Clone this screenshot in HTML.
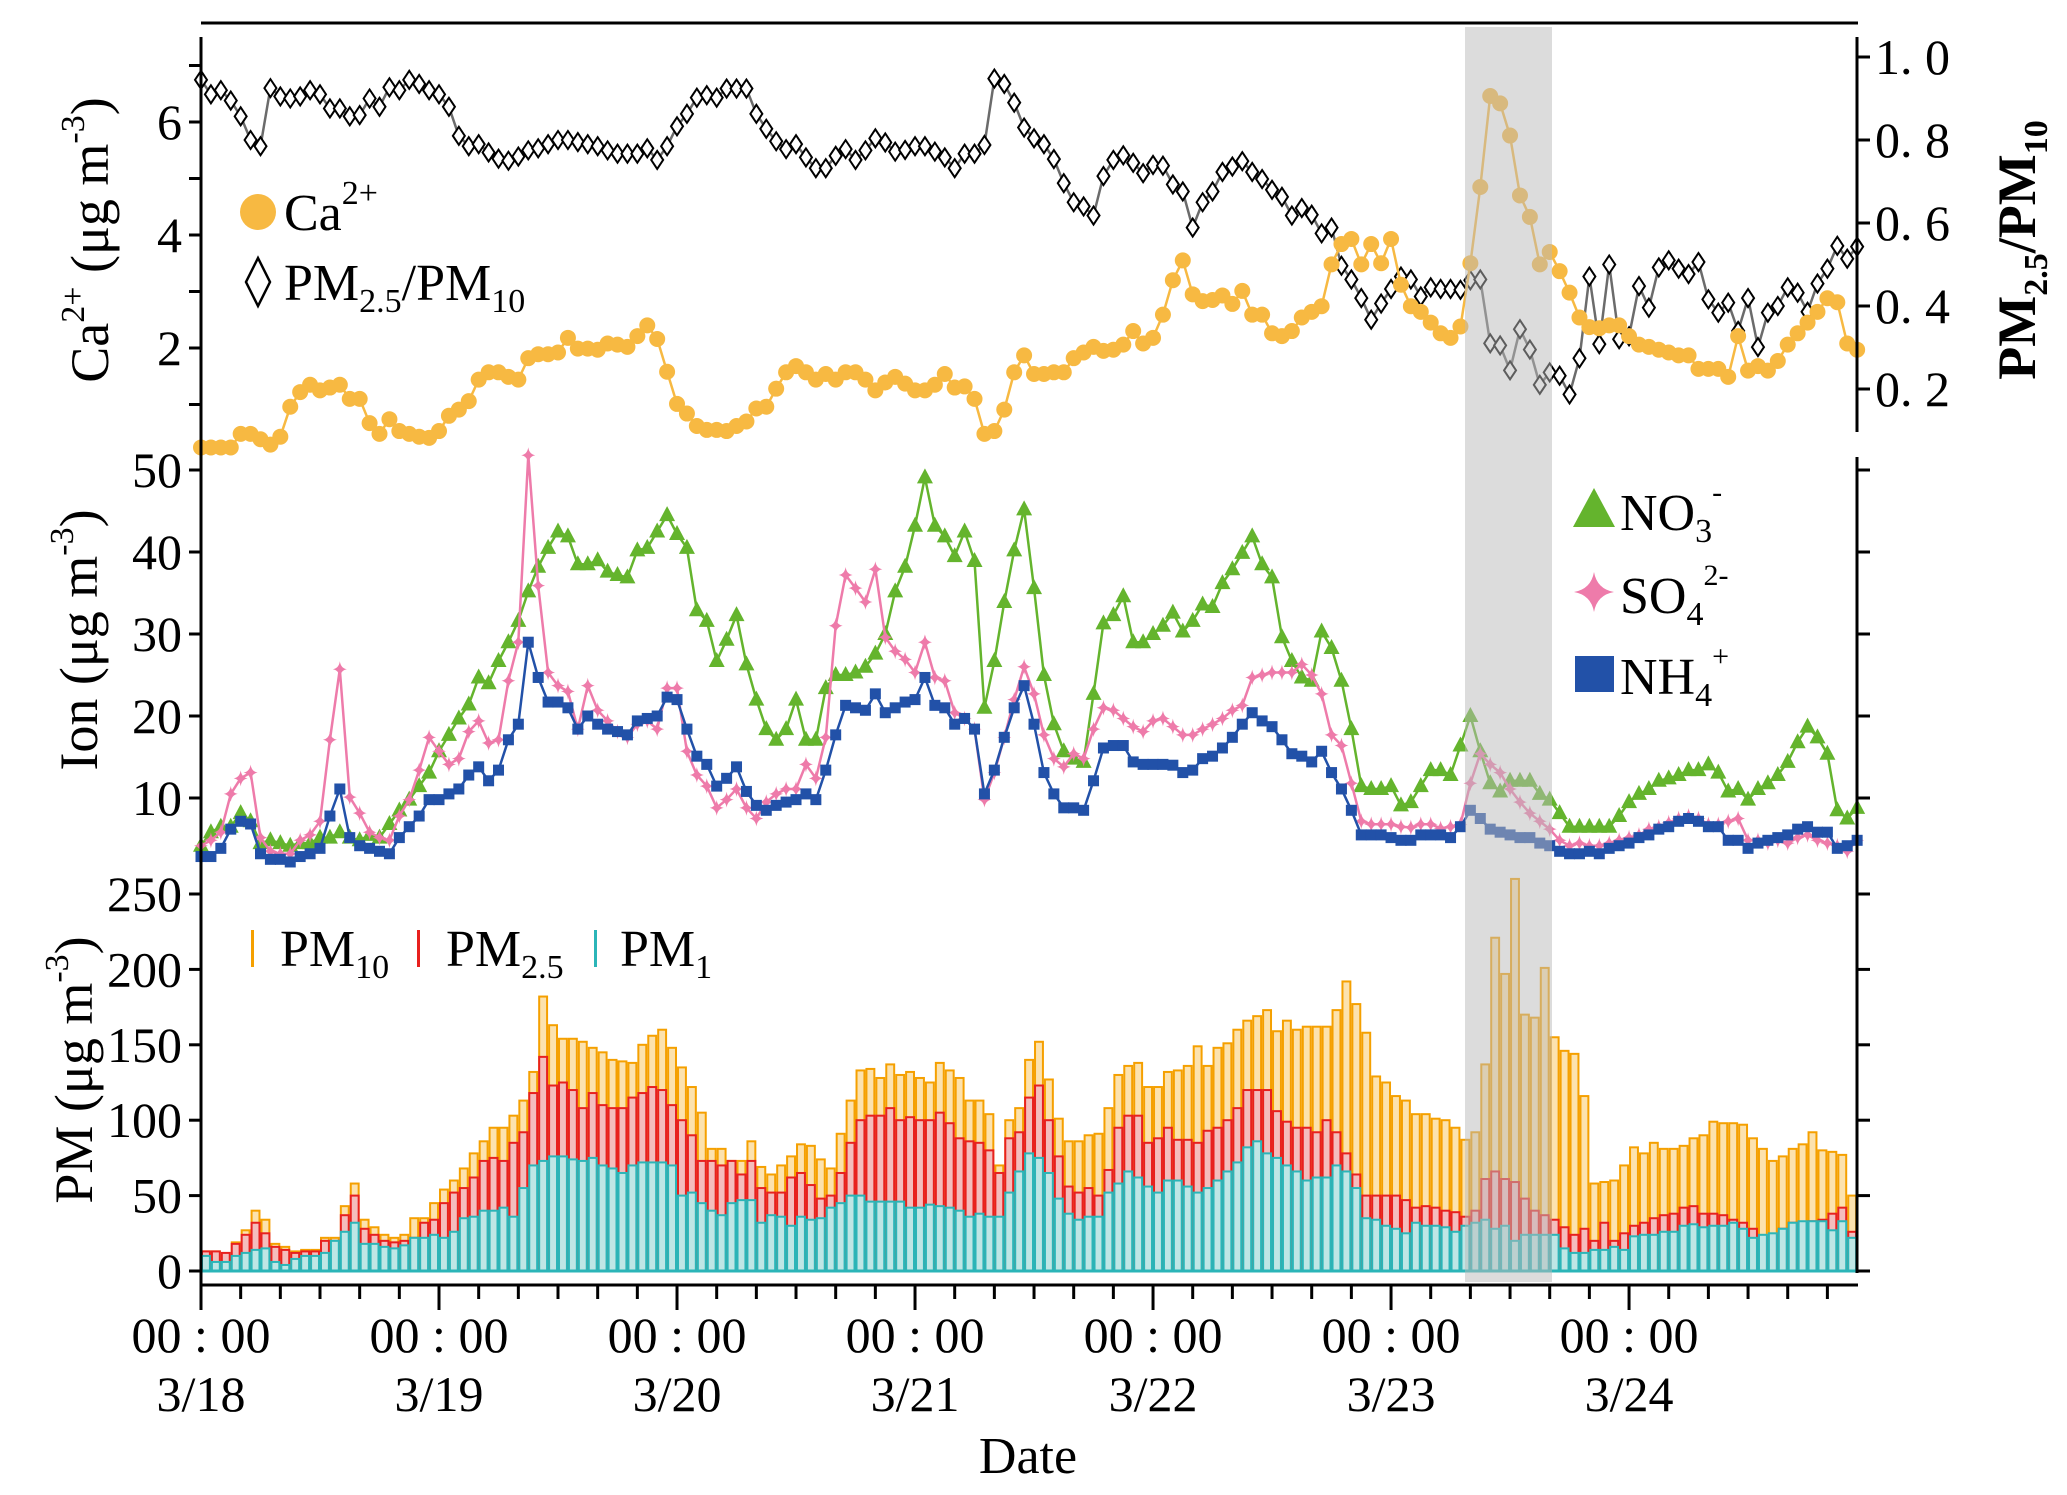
<!DOCTYPE html>
<html><head><meta charset="utf-8"><style>
html,body{margin:0;padding:0;background:#fff;}
svg{display:block;font-family:"Liberation Serif",serif;}
</style></head><body>
<svg id="chart" xmlns="http://www.w3.org/2000/svg" width="2067" height="1495" viewBox="0 0 2067 1495">
<g id="bars"></g>
<g id="lines"></g>
<rect x="1465" y="27" width="87" height="1255" fill="rgba(185,185,185,0.5)"/>
<g id="axes" stroke="#000" stroke-width="3" fill="none">
<line x1="201" y1="23" x2="1858" y2="23"/>
<line x1="201" y1="37" x2="201" y2="1286"/>
<line x1="1857" y1="37" x2="1857" y2="432"/>
<line x1="1857" y1="457" x2="1857" y2="1273"/>
<line x1="200" y1="1285" x2="1858" y2="1285"/>
</g>
<g id="ticks" stroke="#000" stroke-width="3"></g>
<g id="labels" font-size="50" fill="#000"></g>
<g font-size="54" transform="translate(108,240) rotate(-90)" text-anchor="middle"><text>Ca<tspan font-size="34" dy="-24">2+</tspan><tspan dy="24"> (μg m</tspan><tspan font-size="34" dy="-24">-3</tspan><tspan dy="24">)</tspan></text></g>
<g font-size="54" transform="translate(97,640) rotate(-90)" text-anchor="middle"><text>Ion (μg m<tspan font-size="34" dy="-24">-3</tspan><tspan dy="24">)</tspan></text></g>
<g font-size="54" transform="translate(92,1070) rotate(-90)" text-anchor="middle"><text>PM (μg m<tspan font-size="34" dy="-24">-3</tspan><tspan dy="24">)</tspan></text></g>
<g font-size="54" font-weight="bold" transform="translate(2035,250) rotate(-90)" text-anchor="middle"><text>PM<tspan font-size="34" dy="12">2.5</tspan><tspan dy="-12">/PM</tspan><tspan font-size="34" dy="12">10</tspan></text></g>
<text x="1028" y="1473" font-size="52" text-anchor="middle">Date</text>
<g font-size="52">
<circle cx="258" cy="212" r="18" fill="#F7B942"/>
<text x="284" y="230">Ca<tspan font-size="34" dy="-26">2+</tspan></text>
<path d="M258 258 L270 282 L258 306 L246 282 Z" fill="#fff" stroke="#000" stroke-width="2.5"/>
<text x="284" y="300">PM<tspan font-size="34" dy="12">2.5</tspan><tspan dy="-12">/PM</tspan><tspan font-size="34" dy="12">10</tspan></text>
</g>
<g font-size="52">
<path d="M1594 488 L1615 527 L1573 527 Z" fill="#64B42D"/>
<text x="1620" y="530">NO<tspan font-size="34" dy="12">3</tspan><tspan font-size="30" dy="-40">-</tspan></text>
<path d="M1594 572 Q1597 589 1614 592 Q1597 595 1594 612 Q1591 595 1574 592 Q1591 589 1594 572 Z" fill="#EE7BAA"/>
<text x="1620" y="613">SO<tspan font-size="34" dy="12">4</tspan><tspan font-size="30" dy="-40">2-</tspan></text>
<rect x="1575" y="656" width="39" height="36" fill="#2251A8"/>
<text x="1620" y="694">NH<tspan font-size="34" dy="12">4</tspan><tspan font-size="30" dy="-40">+</tspan></text>
</g>
<g font-size="52">
<rect x="251" y="930" width="3" height="37" fill="#F5A000"/>
<text x="280" y="966">PM<tspan font-size="34" dy="12">10</tspan></text>
<rect x="417" y="930" width="3" height="37" fill="#E8201E"/>
<text x="446" y="966">PM<tspan font-size="34" dy="12">2.5</tspan></text>
<rect x="594" y="930" width="3" height="37" fill="#2BB5B8"/>
<text x="620" y="966">PM<tspan font-size="34" dy="12">1</tspan></text>
</g>
</svg>
<script>
const ratio=[0.945,0.91,0.92,0.895,0.857,0.80,0.785,0.925,0.905,0.9,0.905,0.92,0.91,0.876,0.876,0.857,0.86,0.9,0.88,0.927,0.92,0.945,0.935,0.92,0.91,0.88,0.81,0.785,0.79,0.77,0.755,0.75,0.76,0.775,0.78,0.79,0.80,0.80,0.795,0.79,0.785,0.775,
0.767,0.767,0.767,0.78,0.752,0.785,0.833,0.863,0.902,0.908,0.902,0.924,0.924,0.924,0.863,0.827,0.797,0.778,0.79,0.758,0.732,0.732,0.762,0.778,0.752,0.775,0.804,0.794,0.772,0.776,0.785,0.785,0.772,0.758,0.732,0.767,0.767,0.788,0.948,0.935,0.89,0.83,
0.804,0.79,0.754,0.696,0.65,0.64,0.618,0.713,0.752,0.763,0.745,0.72,0.74,0.738,0.693,0.676,0.589,0.65,0.676,0.723,0.736,0.749,0.723,0.706,0.68,0.663,0.618,0.636,0.62,0.575,0.589,0.497,0.464,0.419,0.367,0.406,0.441,0.471,0.464,0.423,0.445,0.441,0.441,0.439,
0.462,0.464,0.31,0.305,0.245,0.344,0.295,0.21,0.24,0.232,0.187,0.274,0.471,0.308,0.5,0.32,0.327,0.448,0.396,0.493,0.51,0.49,0.477,0.506,0.416,0.384,0.408,0.34,0.419,0.301,0.384,0.4,0.445,0.432,0.386,0.454,0.49,0.545,0.514,0.543];
const ca=[0.24,0.24,0.24,0.24,0.48,0.48,0.385,0.29,0.43,0.96,1.22,1.35,1.25,1.30,1.35,1.10,1.10,0.67,0.48,0.74,0.53,0.48,0.43,0.41,0.53,0.80,0.91,1.06,1.44,1.57,1.57,1.49,1.44,1.82,1.89,1.89,1.92,2.18,1.99,1.99,1.97,2.08,
2.06,2.02,2.21,2.40,2.16,1.58,1.01,0.84,0.62,0.55,0.55,0.53,0.62,0.70,0.93,0.96,1.28,1.57,1.68,1.57,1.44,1.54,1.44,1.57,1.57,1.44,1.25,1.39,1.49,1.37,1.25,1.25,1.35,1.54,1.30,1.32,1.10,0.48,0.53,0.91,1.57,1.87,
1.54,1.54,1.57,1.57,1.82,1.92,2.02,1.95,1.97,2.06,2.30,2.08,2.18,2.59,3.20,3.55,2.95,2.83,2.85,2.93,2.78,3.01,2.59,2.59,2.26,2.21,2.30,2.54,2.64,2.74,3.48,3.84,3.93,3.48,3.84,3.50,3.93,3.12,2.74,2.64,2.45,
2.26,2.18,2.38,3.50,4.85,6.46,6.33,5.76,4.70,4.32,3.48,3.70,3.36,2.98,2.54,2.37,2.35,2.40,2.40,2.21,2.06,2.02,1.97,1.92,1.87,1.87,1.63,1.63,1.63,1.49,2.21,1.60,1.68,1.60,1.77,2.06,2.26,2.45,2.64,2.88,2.81,2.08,1.97];
const no3=[4.18,5.83,6.5,6.5,8.15,7.16,4.5,4.84,4.5,4.18,4.5,4.5,5.17,5.17,5.83,5.17,4.84,5.5,5.17,6.83,8.48,9.8,11.45,13.1,15.7,17.7,19.7,21.4,24.7,24.0,26.7,29.0,31.6,35.2,38.2,40.5,42.5,41.9,38.5,38.5,39.0,37.6,
37.2,36.9,40.2,40.5,42.5,44.5,42.2,40.5,32.9,31.6,26.7,29.3,32.3,26.3,22.0,18.4,17.1,18.4,22.0,17.1,17.1,23.4,25.0,25.0,25.3,26.0,27.6,30.0,35.2,38.2,43.2,49.1,43.2,41.9,39.5,42.5,38.9,21.0,26.7,33.9,40.2,45.2,
35.6,25.0,19.0,15.7,14.8,14.4,22.7,31.3,32.3,34.6,29.0,29.0,30.0,31.0,32.6,30.3,31.6,33.6,33.3,36.2,37.9,39.9,41.9,38.5,36.9,29.6,26.7,24.7,24.3,30.3,28.3,24.3,18.4,11.45,11.1,11.1,11.45,9.1,9.5,11.45,13.4,
13.4,12.8,16.4,20.0,15.7,11.8,10.8,12.1,12.1,12.1,10.5,9.8,8.15,6.5,6.5,6.5,6.5,6.5,7.8,9.5,10.5,11.1,12.1,12.4,12.8,13.4,13.4,14.1,13.1,10.8,11.1,9.8,11.1,11.8,12.8,14.4,16.8,18.7,17.4,15.4,8.5,7.5,8.8];
const so4=[4.18,4.84,5.83,10.5,12.4,13.1,5.17,3.5,3.2,3.2,4.84,5.5,7.16,17.1,25.7,10.1,8.15,5.83,5.17,4.84,7.8,9.8,13.4,17.4,15.7,14.1,14.8,18.1,19.4,16.7,17.1,24.3,29.0,51.8,35.9,25.3,23.7,23.0,18.4,23.7,20.7,19.4,
18.1,17.4,19.0,19.4,18.4,23.4,23.4,15.7,12.8,11.45,8.8,9.8,11.1,8.8,7.5,9.5,10.5,11.1,11.1,14.1,12.4,17.4,31.0,37.2,35.6,33.9,37.9,29.6,27.9,26.9,25.3,29.0,24.7,24.3,20.4,19.7,18.4,9.8,13.1,17.4,22.0,26.0,
22.7,17.7,14.8,13.8,15.4,14.8,18.4,21.0,20.7,19.7,18.7,18.1,19.4,19.7,18.7,17.7,17.7,18.4,19.0,19.7,20.7,21.3,24.7,25.0,25.3,25.3,25.3,26.3,25.0,22.7,17.7,16.4,11.8,7.16,6.8,6.8,6.8,6.5,6.4,6.8,6.8,
6.3,6.5,6.8,11.8,15.4,14.1,13.1,11.1,9.5,8.15,7.16,6.2,4.84,4.18,4.5,4.18,4.18,4.5,4.84,5.17,5.5,6.2,6.5,7.0,7.5,7.8,7.5,6.8,6.8,7.16,7.5,4.84,4.84,4.5,4.84,4.5,5.17,5.5,4.84,4.5,4.18,3.5,4.84];
const nh4=[2.86,2.86,3.86,6.2,7.16,6.83,3.2,2.52,2.52,2.2,2.86,3.2,3.86,7.8,11.1,5.17,4.18,3.86,3.5,3.2,5.17,6.5,7.8,9.8,9.8,10.5,11.1,12.8,13.8,12.1,13.4,17.1,19.0,29.0,24.7,21.7,21.7,21.0,18.4,20.0,19.0,18.4,
18.1,17.7,19.4,19.7,20.0,22.3,22.0,18.4,15.1,14.1,11.45,12.4,13.8,10.8,9.1,8.5,9.1,9.5,9.8,10.5,9.8,13.4,17.7,21.3,21.0,20.7,22.7,20.4,21.0,21.7,22.0,24.7,21.3,21.0,19.0,19.7,18.4,10.5,13.4,17.4,21.0,23.7,
19.0,13.1,10.5,8.8,8.8,8.5,12.1,16.1,16.4,16.4,14.4,14.1,14.1,14.1,14.0,13.1,13.4,14.8,15.1,16.1,17.4,19.0,20.4,19.4,18.7,17.1,15.4,15.1,14.4,15.7,13.1,11.1,8.5,5.5,5.5,5.5,5.17,4.84,4.84,5.5,5.5,
5.5,5.17,6.5,8.5,7.5,6.2,5.83,5.5,5.17,5.17,4.5,4.18,3.5,3.2,3.2,3.5,3.2,3.86,4.18,4.5,5.17,5.5,6.2,6.5,7.16,7.5,7.16,6.5,6.5,4.84,4.84,3.86,4.5,4.84,5.17,5.5,6.2,6.5,5.83,5.83,3.86,4.18,4.84];
const pm10=[13,13,10,19,27,40,34,18,16,13,14,14,22,22,43,58,34,29,24,22,24,35,35,45,54,60,68,78,86,95,95,103,113,132,182,163,154,154,152,148,145,140,139,138,150,156,160,148,135,122,105,81,81,73,73,86,69,64,70,76,84,83,74,68,91,113,133,134,128,137,130,132,128,125,138,133,128,113,113,104,70,100,108,140,
152,127,101,86,86,90,91,108,130,136,138,122,122,132,133,136,149,136,148,151,160,166,169,173,159,166,160,162,162,162,173,192,177,158,129,125,116,113,104,104,101,100,95,87,92,137,221,197,260,170,168,201,155,146,144,116,58,59,60,70,82,78,85,81,81,83,88,90,99,98,98,97,88,81,73,76,81,84,92,80,79,77,50];
const pm25=[13,13,12,18,24,32,25,16,14,12,13,13,20,20,37,50,28,24,20,19,20,22,32,34,45,52,55,62,73,75,73,85,92,118,142,123,125,120,108,118,110,108,108,115,118,122,120,110,100,90,73,73,70,73,64,73,55,52,52,62,65,57,48,50,65,85,100,103,103,108,100,102,100,100,105,98,88,86,85,80,65,88,92,115,
123,100,76,56,52,55,50,67,95,103,103,85,88,95,87,87,85,93,95,100,108,120,120,120,106,99,95,95,92,100,92,78,64,50,50,50,50,47,42,43,42,40,39,36,40,61,66,61,59,48,40,37,34,29,24,28,20,32,20,25,30,32,35,37,38,42,43,38,38,37,34,32,28,22,24,28,32,32,33,34,38,42,26];
const pm1=[10,6,6,10,12,14,15,6,4,8,10,10,12,20,26,32,18,18,16,15,17,22,22,24,22,26,35,36,40,40,42,36,55,70,73,76,76,74,73,75,70,68,65,70,72,72,72,70,50,52,45,40,37,45,47,47,32,37,36,30,36,34,35,42,45,50,50,46,46,46,46,42,42,44,43,42,40,36,38,36,36,52,66,78,
75,65,48,38,34,36,36,52,58,66,62,56,52,60,60,56,52,55,60,66,72,82,86,78,75,70,66,60,62,62,70,66,55,35,34,30,28,25,32,30,30,29,26,30,32,34,28,30,20,24,24,24,24,15,12,12,14,14,16,14,23,24,24,26,26,30,31,29,30,30,32,28,22,24,25,28,32,33,33,33,27,33,22];
const caTicks=[1,2,3,4,5,6,7], caLabels=["2","4","6"];
const ratioTicks=["0. 2","0. 4","0. 6","0. 8","1. 0"];
const ionTicks=[10,20,30,40,50];
const pmTicks=[0,50,100,150,200,250];
const dayLabels=["3/18","3/19","3/20","3/21","3/22","3/23","3/24"];

const NS="http://www.w3.org/2000/svg";
const X=h=>201+h*9.917;
const yCa=v=>461-v*56.5, yR=v=>472-v*415, yIon=v=>880-v*8.2, yPM=v=>1271-v*1.508;
function mk(tag,attrs,parent){const e=document.createElementNS(NS,tag);for(const k in attrs)e.setAttribute(k,attrs[k]);parent.appendChild(e);return e;}
const bars=document.getElementById('bars'), lines=document.getElementById('lines'), ticks=document.getElementById('ticks'), labels=document.getElementById('labels');

function drawBars(arr,stroke,fill,name){
  const g=mk('g',{},bars);
  
  
  arr.forEach((v,i)=>{
    const y=yPM(v);
    const r=mk('rect',{x:X(i)+1,y:y,width:7.9,height:1271-y,fill:fill,stroke:stroke,'stroke-width':2},g);
    
    
  });
}
drawBars(pm10,'#F5A000','#FCE2AE','pm10');
drawBars(pm25,'#E8201E','#F4BDBD','pm25');
drawBars(pm1,'#2BB5B8','#BFE6E5','pm1');
const base=mk('line',{x1:201,y1:1271,x2:1857,y2:1271,stroke:'#2BB5B8','stroke-width':3},bars);



function drawSeries(arr,yf,color,name,marker){
  const g=mk('g',{},lines);
  
  
  const pts=arr.map((v,i)=>X(i).toFixed(1)+','+yf(v).toFixed(1)).join(' ');
  const pl=mk('polyline',{points:pts,fill:'none',stroke:color,'stroke-width':2.5},g);
  
  
  arr.forEach((v,i)=>{
    const x=X(i), y=yf(v); let m;
    if(marker==='circle') m=mk('circle',{cx:x,cy:y,r:8,fill:color},g);
    else if(marker==='diamond') m=mk('path',{d:`M${x} ${y-9}L${x+6} ${y}L${x} ${y+9}L${x-6} ${y}Z`,fill:'#fff',stroke:'#000','stroke-width':2},g);
    else if(marker==='tri') m=mk('path',{d:`M${x} ${y-9}L${x+8} ${y+6}L${x-8} ${y+6}Z`,fill:color},g);
    else if(marker==='star') m=mk('path',{d:`M${x} ${y-8}Q${x+1} ${y-1} ${x+7} ${y}Q${x+1} ${y+1} ${x} ${y+8}Q${x-1} ${y+1} ${x-7} ${y}Q${x-1} ${y-1} ${x} ${y-8}Z`,fill:color},g);
    else m=mk('rect',{x:x-5.5,y:y-5.5,width:11,height:11,fill:color},g);
    
    
  });
}
drawSeries(ratio,yR,'#6b6b6b','pm-ratio','diamond');
drawSeries(ca,yCa,'#F7B942','ca','circle');
drawSeries(no3,yIon,'#64B42D','no3','tri');
drawSeries(so4,yIon,'#EE7BAA','so4','star');
drawSeries(nh4,yIon,'#2251A8','nh4','square');

function tick(x1,y1,x2,y2,name){const t=mk('line',{x1,y1,x2,y2},ticks);}
function label(x,y,txt,anchor,name){const t=mk('text',{x,y,'text-anchor':anchor},labels);t.textContent=txt;return t;}
caTicks.forEach(v=>tick(189,yCa(v),201,yCa(v),'ca-tick'));
caLabels.forEach(s=>label(182,yCa(+s)+17,s,'end','ca-tick-label'));
ratioTicks.forEach(s=>{const v=parseFloat(s.replace(' ',''));tick(1857,yR(v),1870,yR(v),'ratio-tick');label(1875,yR(v)+17,s,'start','ratio-tick-label');});
ionTicks.forEach(v=>{tick(189,yIon(v),201,yIon(v),'ion-tick');tick(1857,yIon(v),1870,yIon(v),'ion-right-tick');label(182,yIon(v)+17,String(v),'end','ion-tick-label');});
pmTicks.forEach(v=>{tick(189,yPM(v),201,yPM(v),'pm-tick');tick(1857,yPM(v),1870,yPM(v),'pm-right-tick');label(182,yPM(v)+17,String(v),'end','pm-tick-label');});
for(let h=0;h<=166;h+=4){const major=h%24===0;tick(X(h),1285,X(h),major?1310:1299,major?'x-major-tick':'x-minor-tick');}
dayLabels.forEach((d,i)=>{const x=X(i*24);label(x,1352,'00 : 00','middle','x-time-label');label(x,1411,d,'middle','x-date-label');});
</script>
</body></html>
